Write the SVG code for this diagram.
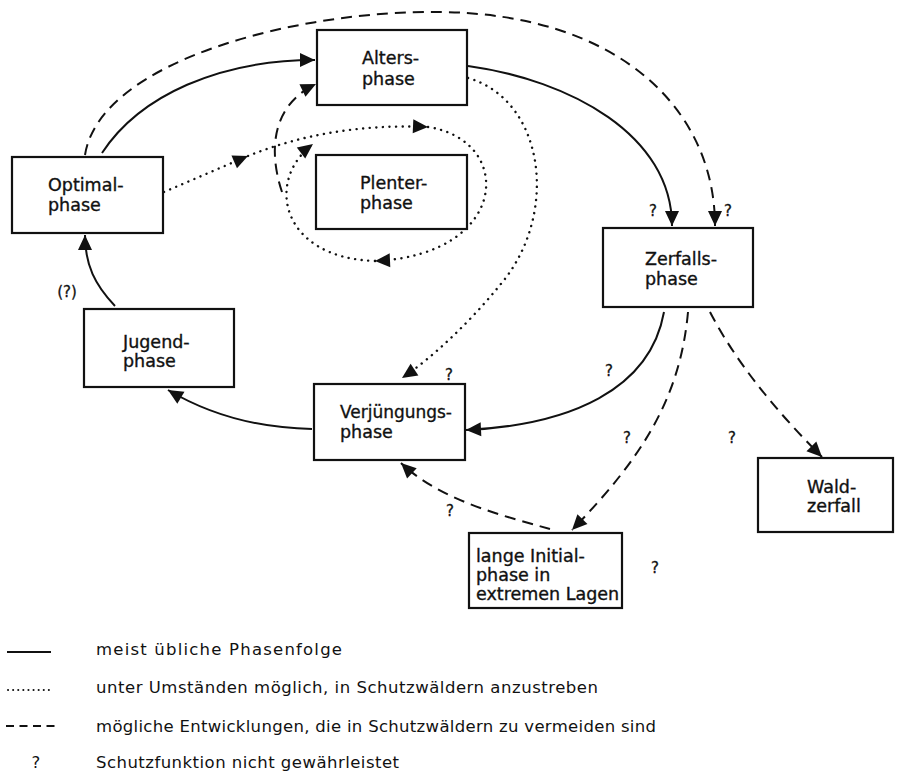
<svg xmlns="http://www.w3.org/2000/svg" width="897" height="771" viewBox="0 0 897 771">
<style>
.box{fill:#fff;stroke:#111;stroke-width:2.2}
.lbl{font-family:"DejaVu Sans","Liberation Sans",sans-serif;font-size:17.5px;fill:#111;stroke:#111;stroke-width:0.35}
.q{font-family:"DejaVu Sans","Liberation Sans",sans-serif;font-size:15px;fill:#111;stroke:#111;stroke-width:0.3;text-anchor:middle}
.leg{font-family:"DejaVu Sans","Liberation Sans",sans-serif;font-size:16.5px;fill:#111}
.solid{fill:none;stroke:#111;stroke-width:2}
.dot{fill:none;stroke:#111;stroke-width:2.4;stroke-dasharray:0.1 6.5;stroke-linecap:round}
.dash{fill:none;stroke:#111;stroke-width:2;stroke-dasharray:11 7}
</style>
<defs>
<marker id="ah" markerUnits="userSpaceOnUse" markerWidth="16" markerHeight="14" refX="15" refY="7" orient="auto" overflow="visible">
<path d="M0,0 L15,7 L0,14 z" fill="#111"/>
</marker>
</defs>
<rect width="897" height="771" fill="#fff"/>
<g id="connectors">
<path class="solid" d="M102,153 C140,95 220,60 315,60" marker-end="url(#ah)"/>
<path class="dash" d="M85,155 C100,60 300,10 440,12 C620,14 715,110 715,226" marker-end="url(#ah)"/>
<path class="solid" d="M468,66 C570,80 672,135 672,226" marker-end="url(#ah)"/>
<path class="dot" d="M468,78 C545,100 560,215 500,285 C470,322 432,358 402,378" marker-end="url(#ah)"/>
<path class="dot" d="M164,192 L248,156" marker-end="url(#ah)"/>
<path class="dot" d="M248,156 C300,135 360,124 428,127" marker-end="url(#ah)"/>
<path class="dot" d="M428,127 C515,140 510,255 375,261" marker-end="url(#ah)"/>
<path class="dot" d="M375,261 C280,258 265,180 313,144" marker-end="url(#ah)"/>
<path class="dash" d="M282,192 C268,150 272,105 316,84" marker-end="url(#ah)"/>
<path class="solid" d="M664,312 C650,390 570,425 466,430" marker-end="url(#ah)"/>
<path class="dash" d="M688,312 C680,400 640,460 572,530" marker-end="url(#ah)"/>
<path class="dash" d="M710,312 Q745,380 822,457" marker-end="url(#ah)"/>
<path class="dash" d="M550,529 C500,515 440,500 401,463" marker-end="url(#ah)"/>
<path class="solid" d="M312,429 C260,428 210,415 168,390" marker-end="url(#ah)"/>
<path class="solid" d="M115,306 C95,285 85,265 85,235" marker-end="url(#ah)"/>
</g>
<g id="alters"><rect class="box" x="317" y="30" width="150" height="75"/><text class="lbl" x="362" y="64">Alters-</text><text class="lbl" x="362" y="85">phase</text></g>
<g id="plenter"><rect class="box" x="316" y="155" width="151" height="74"/><text class="lbl" x="360" y="189">Plenter-</text><text class="lbl" x="360" y="209">phase</text></g>
<g id="optimal"><rect class="box" x="12" y="157" width="151" height="76"/><text class="lbl" x="48" y="191">Optimal-</text><text class="lbl" x="48" y="211">phase</text></g>
<g id="zerfalls"><rect class="box" x="603" y="228" width="150" height="79"/><text class="lbl" x="645" y="265">Zerfalls-</text><text class="lbl" x="645" y="285">phase</text></g>
<g id="jugend"><rect class="box" x="84" y="309" width="150" height="78"/><text class="lbl" x="123" y="348">Jugend-</text><text class="lbl" x="123" y="367">phase</text></g>
<g id="verjuengung"><rect class="box" x="314" y="384" width="151" height="76"/><text class="lbl" x="340" y="418" textLength="112" lengthAdjust="spacingAndGlyphs">Verjüngungs-</text><text class="lbl" x="340" y="438">phase</text></g>
<g id="waldzerfall"><rect class="box" x="758" y="458" width="135" height="74"/><text class="lbl" x="807" y="493">Wald-</text><text class="lbl" x="807" y="512">zerfall</text></g>
<g id="initial"><rect class="box" x="469" y="533" width="153" height="75"/><text class="lbl" x="476" y="562" font-size="16.5">lange Initial-</text><text class="lbl" x="476" y="581" font-size="16.5">phase in</text><text class="lbl" x="476" y="600" font-size="16.5">extremen Lagen</text></g>
<g id="marks">
<text class="q" x="653" y="216">?</text>
<text class="q" x="728" y="216">?</text>
<text class="q" x="67" y="297">(?)</text>
<text class="q" x="449" y="380">?</text>
<text class="q" x="609" y="376">?</text>
<text class="q" x="627" y="443">?</text>
<text class="q" x="732" y="443">?</text>
<text class="q" x="450" y="516">?</text>
<text class="q" x="655" y="573">?</text>
</g>
<g id="legend">
<line class="solid" x1="7" y1="652" x2="51" y2="652"/>
<line class="dot" x1="8" y1="690" x2="53" y2="690" style="stroke-dasharray:0.1 5;stroke-width:2"/>
<line class="dash" x1="6" y1="726" x2="55" y2="726" style="stroke-dasharray:8 5.5"/>
<text class="leg" x="36" y="768" text-anchor="middle">?</text>
<text class="leg" x="96" y="655" textLength="246" lengthAdjust="spacing">meist übliche Phasenfolge</text>
<text class="leg" x="96" y="693" textLength="502" lengthAdjust="spacing">unter Umständen möglich, in Schutzwäldern anzustreben</text>
<text class="leg" x="96" y="732" textLength="560" lengthAdjust="spacing">mögliche Entwicklungen, die in Schutzwäldern zu vermeiden sind</text>
<text class="leg" x="96" y="768" textLength="303" lengthAdjust="spacing">Schutzfunktion nicht gewährleistet</text>
</g>
</svg>
